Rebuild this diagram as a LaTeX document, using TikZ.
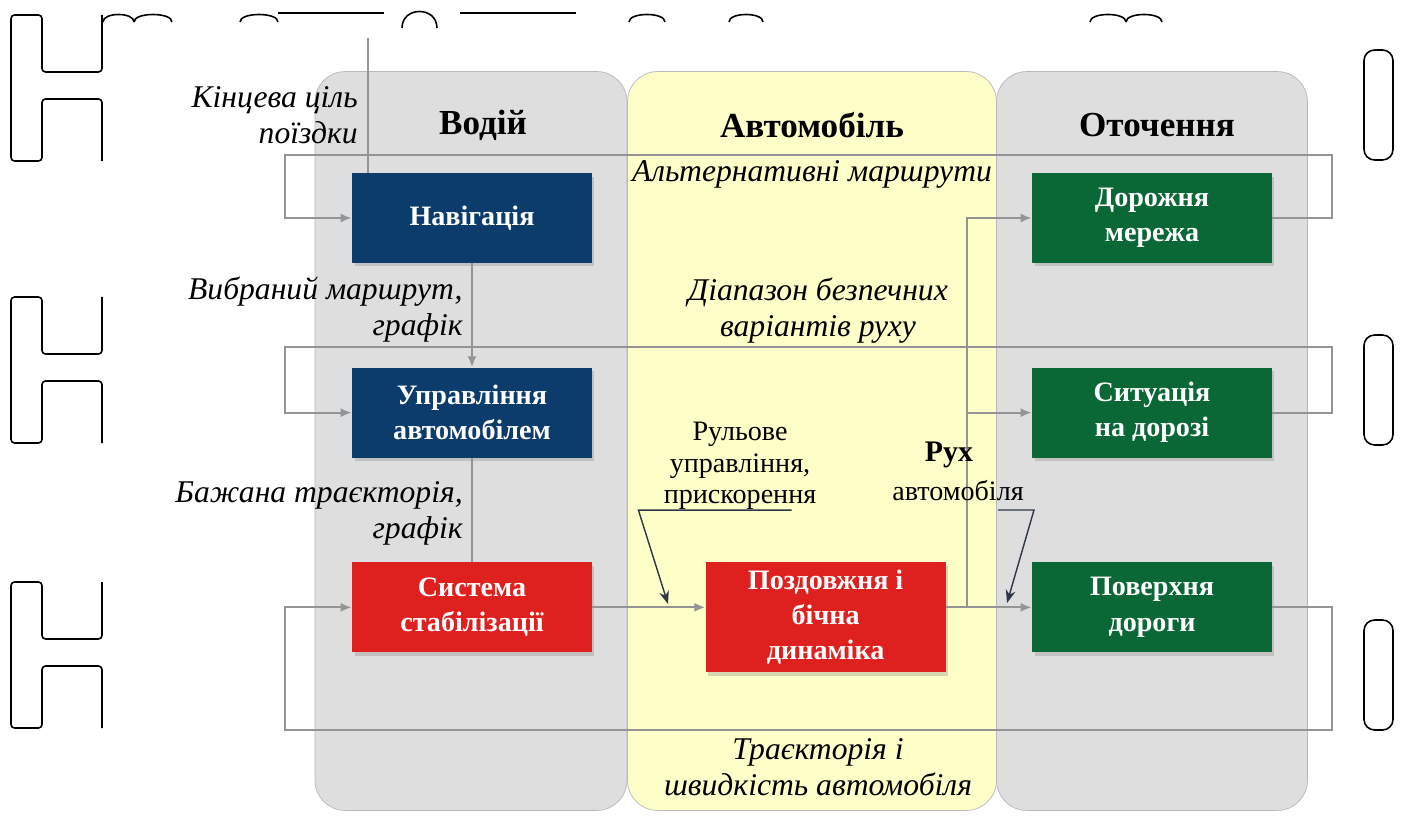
\documentclass[tikz,border=0pt]{standalone}
\usepackage{fontspec}
\setmainfont{Liberation Serif}
\usetikzlibrary{arrows.meta,positioning,calc,shadows}
\definecolor{navblue}{RGB}{12,60,108}
\definecolor{stabred}{RGB}{222,32,30}
\definecolor{envgreen}{RGB}{10,104,54}
\definecolor{lanegray}{RGB}{222,222,222}
\definecolor{laneyellow}{RGB}{254,254,200}
\definecolor{flowgray}{RGB}{148,148,148}
\definecolor{notedark}{RGB}{45,55,70}
\tikzset{
  lane/.style={draw=black!28, rounded corners=0.6cm, minimum height=14.78cm},
  headtext/.style={font=\bfseries\fontsize{20}{24}\selectfont},
  unitbox/.style={text=white, font=\bfseries\fontsize{16}{20}\selectfont, align=center, minimum width=4.8cm, minimum height=1.8cm, inner sep=2pt, drop shadow={shadow xshift=0.05cm, shadow yshift=-0.07cm, opacity=0.3}},
  flowtext/.style={font=\itshape\fontsize{18}{20.5}\selectfont, inner sep=0pt},
  notetext/.style={font=\fontsize{16}{18}\selectfont, inner sep=0pt, align=center},
  flowline/.style={draw=flowgray, line width=1.2pt},
  flowarrow/.style={flowline, -{Latex[length=2.2mm, width=1.8mm]}},
  notearrow/.style={draw=notedark, line width=0.8pt, -{Stealth[length=2.6mm]}},
  scanmark/.style={draw=black, line width=0.9pt, rounded corners=2pt},
}

\begin{document}
\begin{tikzpicture}[x=0.02cm, y=-0.02cm, node distance=2.08cm]
    \useasboundingbox (0,0) rectangle (1403,827);
    % lanes
    \node[lane, fill=lanegray, minimum width=6.24cm] (drvlane) at (471,441) {};
    \node[lane, fill=lanegray, minimum width=6.22cm] (envlane) at (1152,441) {};
    \node[lane, fill=laneyellow, minimum width=7.38cm] (carlane) at (812,441) {};
    \node[headtext] (drvhead) at (483,125) {Водій};
    \node[headtext] (carhead) at (812,125) {Автомобіль};
    \node[headtext] (envhead) at (1157,125) {Оточення};
    % blocks
    \node[unitbox, fill=navblue] (navi) at (472,218) {Навігація};
    \node[unitbox, fill=navblue, below=of navi] (ctrl) {Управління\\автомобілем};
    \node[unitbox, fill=stabred, below=of ctrl] (stab) {Система\\стабілізації};
    \node[unitbox, fill=stabred, minimum height=2.2cm, right=2.26cm of stab.north east, anchor=north west] (dyn) {Поздовжня і\\бічна\\динаміка};
    \node[unitbox, fill=envgreen] (roadnet) at (1152,218) {Дорожня\\мережа};
    \node[unitbox, fill=envgreen, below=of roadnet] (situ) {Ситуація\\на дорозі};
    \node[unitbox, fill=envgreen, below=of situ] (surf) {Поверхня\\дороги};
    % flows
    \coordinate (goal) at (368,38);
    \coordinate (split) at (967,606);
    \draw[flowline] (goal) -- (goal |- navi.north);
    \draw[flowarrow] (navi) -- (ctrl);
    \draw[flowline] (ctrl) -- (stab);
    \draw[flowarrow] (stab.east) -- (stab.east -| dyn.west);
    \draw[flowarrow] (stab.east -| dyn.east) -- (stab.east -| surf.west);
    \draw[flowarrow] (split) |- (roadnet.west);
    \draw[flowarrow] (split) |- (situ.west);
    \draw[flowarrow] (roadnet.east) -| (1332,155) -| ([xshift=-1.34cm]navi.west) -- (navi.west);
    \draw[flowarrow] (situ.east) -| (1332,347) -| ([xshift=-1.34cm]ctrl.west) -- (ctrl.west);
    \draw[flowarrow] (surf.east) -| (1332,730) -| ([xshift=-1.34cm]stab.west) -- (stab.west);
    % labels
    \node[flowtext, align=right, anchor=east] (goaltxt) at (358,115) {Кінцева ціль\\поїздки};
    \node[flowtext] (alttxt) at (812,174) {Альтернативні маршрути};
    \node[flowtext, align=right, anchor=east] (routetxt) at (463,310) {Вибраний маршрут,\\графік};
    \node[flowtext, align=center] (safetxt) at (818,311) {Діапазон безпечних\\варіантів руху};
    \node[flowtext, align=right, anchor=east] (pathtxt) at (463,513) {Бажана траєкторія,\\графік};
    \node[flowtext, align=center] (speedtxt) at (818,767) {Траєкторія і\\швидкість автомобіля};
    \node[notetext] (steer) at (740,466) {Рульове\\управління,\\прискорення};
    \node[font=\bfseries\fontsize{17}{20}\selectfont, inner sep=0pt] (mvhead) at (949,455) {Рух};
    \node[notetext] (mvcar) at (958,491) {автомобіля};
    \coordinate (steertip) at (668,604);
    \coordinate (mvfoot) at (998,510);
    \coordinate (mvtip) at (1007,603);
    \draw[notearrow] ([xshift=-0.5cm]steer.south east) -- ([xshift=-0.5cm]steer.south west) -- (steertip);
    \draw[notearrow] (mvfoot) -- ++(36,0) -- (mvtip);
    % scan marks at the edges
    \foreach \t in {15,297,582} {
        \draw[scanmark] (102,\t) -- (102,\t+57) -- (42,\t+57) -- (42,\t) -- (11,\t) -- (11,\t+146) -- (42,\t+146) -- (42,\t+84) -- (102,\t+84) -- (102,\t+146);
    }
    \foreach \t in {50,335,620} {
        \draw[scanmark, rounded corners=6pt] (1364,\t) rectangle (1393,\t+110);
    }
    \foreach \a/\b in {103/134, 134/172, 240/278, 629/665, 729/763, 1090/1126, 1126/1162} {
        \draw[scanmark] (\a,22) .. controls (\a,12) and (\b,12) .. (\b,22);
    }
    \draw[scanmark] (402,28) .. controls (402,6) and (437,6) .. (437,28);
    \draw[scanmark] (278,13) -- (384,13);
    \draw[scanmark] (460,13) -- (576,13);
\end{tikzpicture}
\end{document}
